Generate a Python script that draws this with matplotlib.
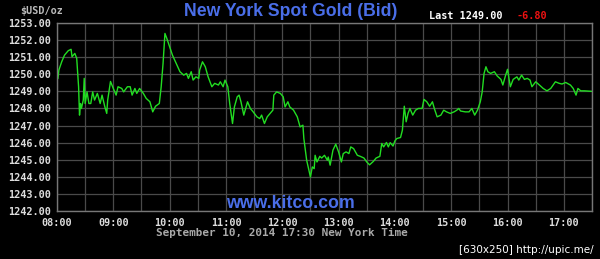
import matplotlib
matplotlib.use("Agg")
import matplotlib.pyplot as plt
import numpy as np

# ---- data ----
times = ["08:01","08:02","08:05","08:08","08:12","08:15","08:16","08:19","08:21","08:23",
         "08:24","08:25","08:26","08:28","08:29","08:30","08:32","08:34","08:36","08:38",
         "08:40","08:43","08:46","08:48","08:51","08:53","08:54","08:57","09:00","09:03",
         "09:05","09:09","09:11","09:15","09:18","09:20","09:23","09:25","09:28","09:32",
         "09:35","09:39","09:42","09:45","09:49","09:51","09:53","09:55","09:57","10:00",
         "10:03","10:07","10:11","10:15","10:18","10:20","10:23","10:25","10:28","10:31",
         "10:32","10:35","10:38","10:41","10:45","10:48","10:52","10:54","10:57","10:59",
         "11:02","11:04","11:07","11:09","11:12","11:14","11:16","11:19","11:21","11:23",
         "11:26","11:29","11:33","11:36","11:38","11:41","11:44","11:47","11:50","11:51",
         "11:54","11:58","12:01","12:03","12:06","12:08","12:12","12:16","12:19","12:22",
         "12:23","12:26","12:28","12:30","12:32","12:34","12:35","12:37","12:40","12:42",
         "12:45","12:48","12:49","12:51","12:54","12:57","13:00","13:03","13:05","13:08",
         "13:11","13:13","13:16","13:20","13:23","13:27","13:30","13:33","13:37","13:40",
         "13:44","13:46","13:48","13:51","13:53","13:55","13:58","14:00","14:02","14:06",
         "14:08","14:10","14:12","14:14","14:16","14:19","14:22","14:25","14:29","14:31",
         "14:34","14:37","14:40","14:42","14:45","14:49","14:52","14:55","14:59","15:03",
         "15:06","15:08","15:10","15:15","15:19","15:22","15:25","15:28","15:31","15:33",
         "15:35","15:37","15:39","15:42","15:46","15:49","15:53","15:55","15:58","16:00",
         "16:03","16:06","16:10","16:12","16:15","16:18","16:21","16:24","16:26","16:30",
         "16:34","16:38","16:42","16:46","16:51","16:55","16:58","17:02","17:07","17:10",
         "17:13","17:15","17:18","17:22","17:30"]
prices = [1249.76,1250.25,1250.73,1251.12,1251.38,1251.46,1251.03,1251.22,1250.93,1249.27,
          1247.61,1248.29,1248.00,1248.49,1249.76,1248.29,1248.97,1248.29,1248.29,1248.97,
          1248.49,1248.88,1248.29,1248.78,1248.09,1247.71,1248.49,1249.58,1249.17,1248.78,
          1249.27,1249.17,1248.97,1249.27,1249.27,1248.78,1249.17,1248.88,1249.17,1248.88,
          1248.59,1248.39,1247.80,1248.13,1248.29,1249.27,1250.64,1252.39,1252.10,1251.61,
          1251.12,1250.64,1250.15,1249.95,1250.05,1249.76,1250.15,1249.66,1249.85,1249.76,
          1250.25,1250.73,1250.44,1249.85,1249.27,1249.47,1249.37,1249.56,1249.27,1249.66,
          1249.27,1248.29,1247.12,1248.09,1248.68,1248.78,1248.39,1247.61,1248.00,1248.39,
          1248.00,1247.80,1247.51,1247.41,1247.61,1247.12,1247.51,1247.71,1247.90,1248.78,
          1248.97,1248.88,1248.68,1248.09,1248.39,1248.09,1247.90,1247.51,1246.92,1247.02,
          1246.24,1244.97,1244.48,1243.99,1244.58,1244.48,1245.26,1244.87,1245.20,1245.10,
          1245.26,1244.97,1245.16,1244.68,1245.56,1245.91,1245.46,1244.87,1245.36,1245.46,
          1245.36,1245.75,1245.65,1245.26,1245.20,1245.10,1244.87,1244.70,1244.90,1245.10,
          1245.20,1245.95,1245.75,1246.01,1245.75,1246.00,1245.80,1246.10,1246.24,1246.30,
          1246.73,1248.13,1247.22,1247.71,1248.00,1247.61,1247.90,1248.00,1248.00,1248.53,
          1248.39,1248.13,1248.39,1248.00,1247.51,1247.61,1247.90,1247.80,1247.71,1247.80,
          1247.90,1248.00,1247.85,1247.80,1247.80,1248.00,1247.61,1247.90,1248.39,1248.97,
          1250.05,1250.44,1250.15,1250.05,1250.15,1249.90,1249.70,1249.37,1249.95,1250.29,
          1249.27,1249.70,1249.85,1249.66,1249.95,1249.70,1249.76,1249.66,1249.27,1249.56,
          1249.37,1249.17,1249.03,1249.17,1249.56,1249.47,1249.43,1249.52,1249.37,1249.17,
          1248.78,1249.17,1249.03,1249.03,1249.00]
x_tick_labels = ["08:00","09:00","10:00","11:00","12:00","13:00","14:00","15:00","16:00","17:00"]
y_ticks = [1242,1243,1244,1245,1246,1247,1248,1249,1250,1251,1252,1253]
last_price = 1249.00
change = -6.80

def to_hours(s):
    h, m = s.split(":")
    return int(h) + int(m) / 60.0

xh = np.array([to_hours(t) for t in times])

fig = plt.figure(figsize=(6.0, 2.59), dpi=100, facecolor="black")
ax = fig.add_axes([57/600, 1-211/259, (592-57)/600, (211-23)/259])
ax.set_facecolor("black")
ax.plot(xh, prices, color="#22dd22", lw=1.0)

ax.set_xlim(8.0, 17.5)
ax.set_ylim(1242, 1253)
ax.set_xticks([to_hours(t) for t in x_tick_labels])
ax.set_xticklabels(x_tick_labels)
ax.set_xticks(np.arange(8.0, 17.51, 0.5), minor=True)
ax.set_yticks(y_ticks)
ax.set_yticklabels([f"{v:.2f}" for v in y_ticks])
ax.grid(True, which="both", color="#4a4a4a", lw=0.9)
ax.tick_params(which="both", length=0, colors="#dddddd")
ax.tick_params(axis="x", pad=5)
ax.tick_params(axis="y", pad=4)
fs = 7.3
mono = dict(family="DejaVu Sans Mono", size=fs, weight="bold")
for lab in ax.get_xticklabels() + ax.get_yticklabels():
    lab.set_fontfamily("DejaVu Sans Mono")
    lab.set_fontsize(fs)
    lab.set_fontweight("bold")
    lab.set_color("#dddddd")
for sp in ax.spines.values():
    sp.set_color("#777777")
    sp.set_linewidth(1.0)

fig.text(42/600, 1-11/259, "$USD/oz", color="#bbbbbb", ha="center", va="center", **mono)
fig.text(291/600, 1-12/259, "New York Spot Gold (Bid)", color="#4a6ee8",
         family="Liberation Sans", weight="bold", size=12.7, ha="center", va="center")
fig.text(429/600, 1-16/259, f"Last {last_price:.2f}", color="white",
         ha="left", va="center", **mono)
fig.text(517/600, 1-16/259, f"{change:.2f}", color="#ee1111",
         ha="left", va="center", **mono)
fig.text(290/600, 1-203/259, "www.kitco.com", color="#4a6ee8",
         family="Liberation Sans", weight="bold", size=12.8, ha="center", va="center")
fig.text(282/600, 1-233/259, "September 10, 2014 17:30 New York Time", color="#aaaaaa",
         ha="center", va="center", family="DejaVu Sans Mono", size=7.9, weight="bold")
fig.text(594/600, 1-250/259, "[630x250] http://upic.me/", color="white",
         family="DejaVu Sans", size=7.5, ha="right", va="center")

fig.savefig("out.png", dpi=100, facecolor="black")
